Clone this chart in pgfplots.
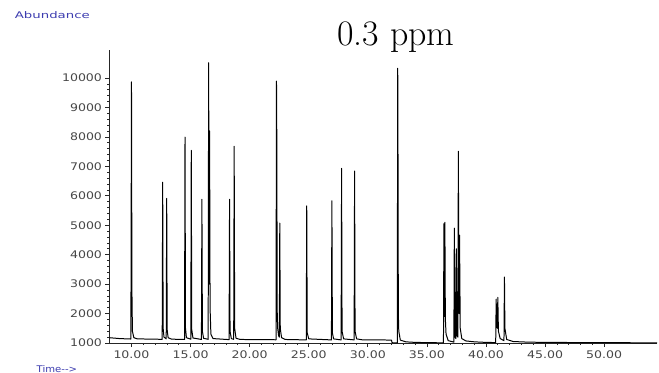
\documentclass[border=0pt]{standalone}
\usepackage{fontspec}
\usepackage{graphicx}
\usepackage{pgfplots}
\pgfplotsset{compat=1.18}
\newfontfamily\tickfont[FakeStretch=1.2]{DejaVu Sans}
\newfontfamily\lblfont[FakeStretch=1.45]{DejaVu Sans}
\newfontfamily\timefont[FakeStretch=1.1]{DejaVu Sans}
\definecolor{lblblue}{RGB}{60,60,175}
\definecolor{tickgray}{RGB}{70,70,70}
\pgfplotstableread{
t h
8.14 1180
9.0 1150
9.95 1135
10.00 9870
10.02 5900
10.04 2700
10.08 1400
10.2 1180
10.5 1140
12.60 1125
12.64 6460
12.68 1500
12.75 1200
12.94 1140
12.98 5910
13.02 1450
13.1 1180
13.4 1130
14.49 1120
14.53 7990
14.57 1500
14.65 1180
15.02 1130
15.06 7540
15.10 1450
15.2 1170
15.92 1120
15.96 5880
16.00 1400
16.1 1160
16.49 1125
16.53 10520
16.57 3000
16.61 8200
16.65 2200
16.72 1300
16.9 1150
18.26 1115
18.30 5880
18.34 1400
18.45 1150
18.65 1125
18.69 7680
18.73 1500
18.85 1160
19.2 1120
22.23 1110
22.27 9890
22.30 7750
22.33 2100
22.37 1500
22.45 1250
22.51 1200
22.55 5070
22.59 1500
22.7 1180
23.0 1120
24.79 1105
24.83 5660
24.87 1350
25.0 1140
26.92 1105
26.96 5830
27.00 1350
27.1 1140
27.74 1105
27.78 6930
27.82 1400
27.95 1140
28.84 1105
28.88 6840
28.92 1400
29.05 1140
29.5 1110
32.0 1100
32.05 1010
32.49 1000
32.53 10330
32.56 6520
32.58 2020
32.62 1400
32.75 1100
33.2 1040
34 1020
36.40 1005
36.44 5050
36.48 1900
36.52 5100
36.56 1810
36.62 1300
36.8 1080
37.28 1030
37.32 4900
37.38 1200
37.45 1150
37.49 4200
37.55 1250
37.62 1200
37.66 7510
37.70 3000
37.73 2000
37.76 4660
37.82 1500
37.95 1150
38.3 1070
39 1040
40 1020
40.82 1015
40.86 2490
40.90 1600
40.96 1500
41.00 2550
41.05 1400
41.2 1150
41.52 1080
41.56 3240
41.60 1500
41.75 1120
42.3 1050
43.5 1030
45 1020
54.47 1005
}\trace
\begin{document}
\begin{tikzpicture}
\begin{axis}[
  scale only axis,
  width=547.5bp, height=293bp,
  xmin=8.14, xmax=54.47, ymin=1000, ymax=10950,
  axis x line=bottom, axis y line=left,
  axis line style={-, black!85, line width=0.9pt},
  xtick={10,15,...,50},
  ytick={1000,2000,...,10000},
  minor x tick num=4, minor y tick num=4,
  tick align=outside,
  major tick length=4bp, minor tick length=2bp,
  tick style={black!85, line width=0.7pt},
  /pgf/number format/assume math mode=true,
  xticklabel style={font=\tickfont\fontsize{10.5}{12}\selectfont, text=tickgray,
    /pgf/number format/.cd, fixed, fixed zerofill, precision=2},
  yticklabel style={font=\tickfont\fontsize{10.5}{12}\selectfont, text=tickgray,
    /pgf/number format/.cd, set thousands separator={}},
  scaled y ticks=false,
  clip=false,
]
\addplot[black, line width=1.0pt, mark=none, line join=round] table[x=t, y=h] {\trace};
\coordinate (O) at (rel axis cs:0,0);
\end{axis}
\node[anchor=base] at ([shift={(286.5bp,297.5bp)}]O) {\fontsize{36}{40}\selectfont 0.3 ppm};
\node[anchor=base west, inner sep=0pt, text=lblblue] at ([shift={(-94.8bp,324bp)}]O) {\lblfont\fontsize{9.2}{11}\selectfont Abundance};
\node[anchor=base west, inner sep=0pt, text=lblblue] at ([shift={(-73bp,-29bp)}]O) {\timefont\fontsize{9.2}{11}\selectfont Time-{}->};
\pgfresetboundingbox
\path[use as bounding box] ([shift={(-109.5bp,-30bp)}]O) rectangle ([shift={(549.5bp,343bp)}]O);
\end{tikzpicture}
\end{document}
